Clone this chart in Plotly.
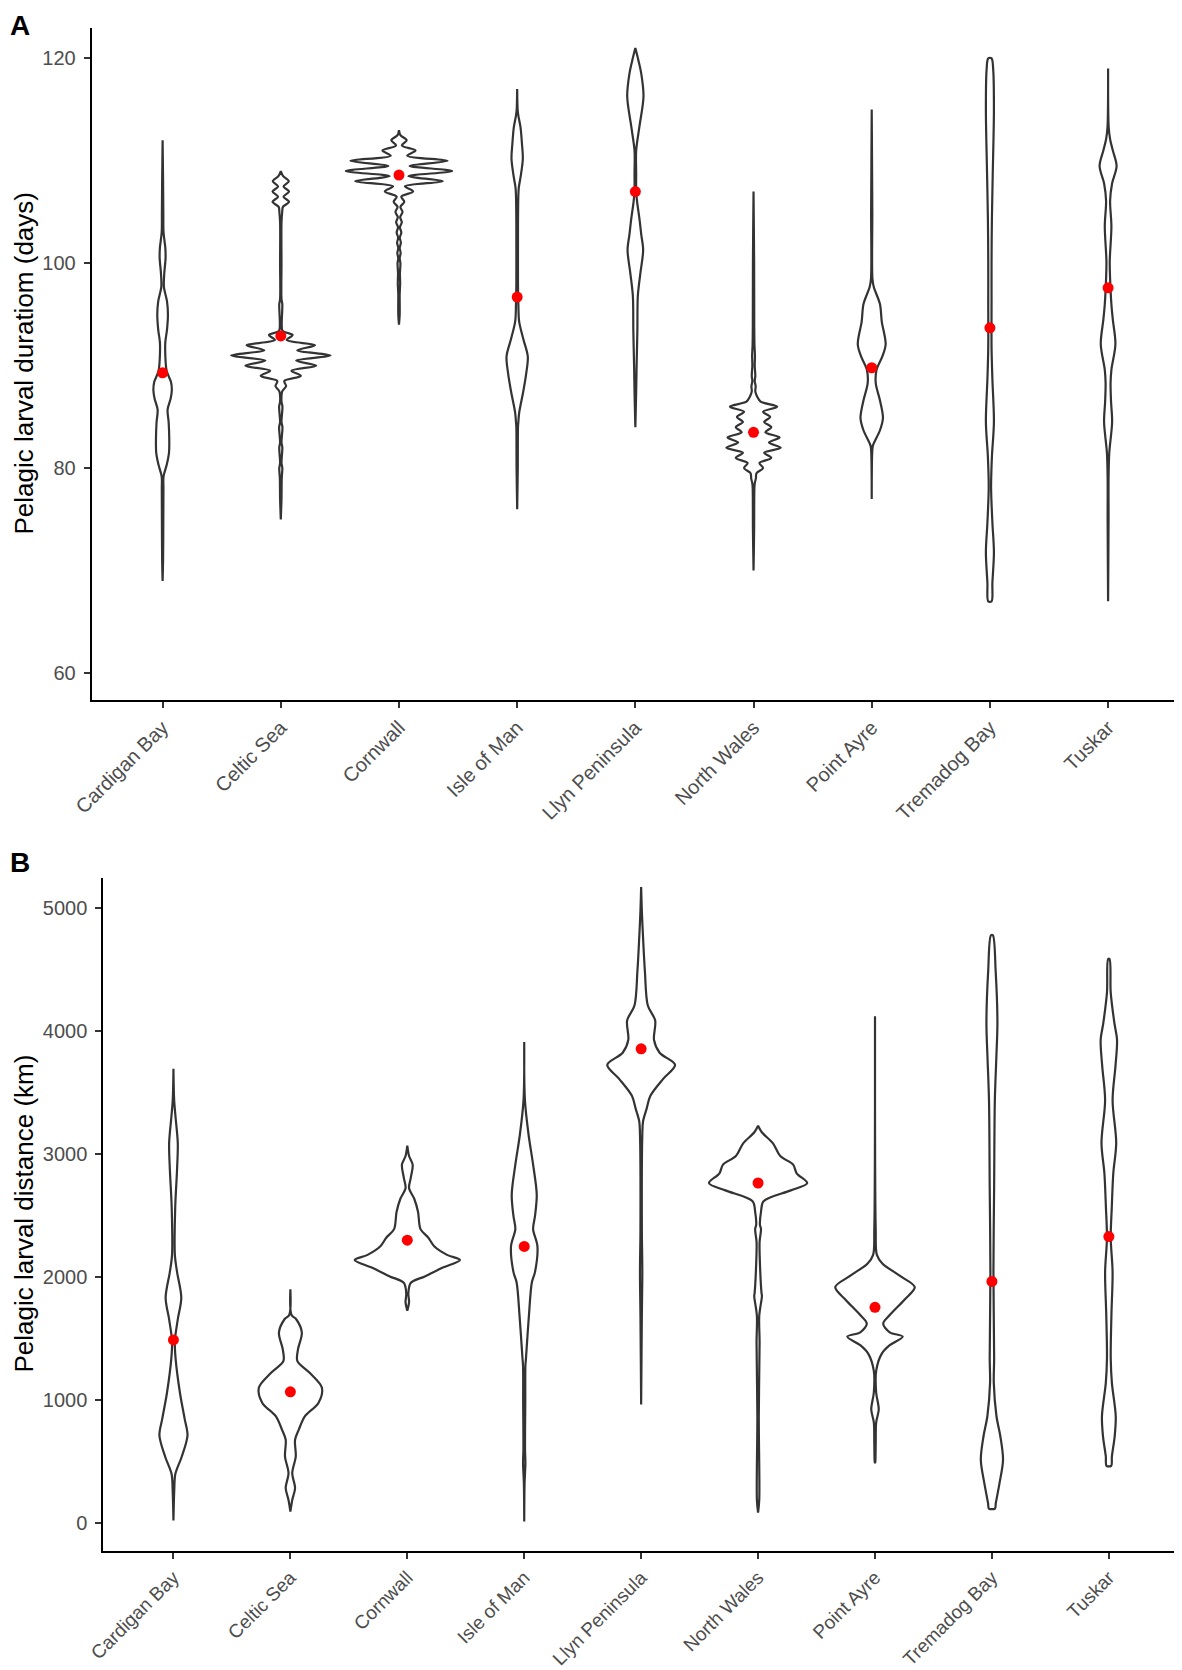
import plotly.graph_objects as go

sites = ["Cardigan Bay", "Celtic Sea", "Cornwall", "Isle of Man", "Llyn Peninsula",
         "North Wales", "Point Ayre", "Tremadog Bay", "Tuskar"]

# violin outlines: (value, half width in category units)
# panel A - pelagic larval duration (days)
pld_cardigan = [(69.0, 0), (71, 0.004), (75, 0.006), (78, 0.007), (79.2, 0.008), (80.3, 0.034),
                (81.5, 0.054), (83, 0.056), (84.5, 0.051), (85.7, 0.042), (86.8, 0.068),
                (87.6, 0.078), (88.4, 0.071), (89.5, 0.034), (91, 0.023), (92.3, 0.023),
                (93.5, 0.037), (95, 0.045), (96.3, 0.037), (97.7, 0.011), (99, 0.014),
                (100.5, 0.025), (101.5, 0.023), (103, 0.008), (105, 0.006), (108, 0.004), (112, 0)]
pld_celtic = [(75, 0), (77, 0.006), (79, 0.008), (80, 0.013), (80.5, 0.006), (82, 0.013),
              (82.5, 0.006), (84, 0.014), (84.5, 0.006), (86, 0.014), (86.5, 0.006),
              (87.5, 0.012), (88, 0.045), (88.5, 0.03), (89, 0.17), (89.5, 0.09),
              (90, 0.30), (90.5, 0.13), (91, 0.42), (91.5, 0.14), (92, 0.29), (92.5, 0.05),
              (93, 0.10), (93.4, 0.015), (94, 0.008), (96, 0.013), (96.5, 0.006), (100, 0.006),
              (104, 0.006), (105, 0.012), (105.5, 0.018), (106, 0.07), (106.5, 0.023),
              (107, 0.07), (107.5, 0.023), (108, 0.068), (108.5, 0.02), (109, 0)]
pld_cornwall = [(94, 0), (95, 0.006), (97, 0.006), (98, 0.01), (99, 0.008), (100, 0.012),
                (100.5, 0.006), (101, 0.014), (101.5, 0.006), (102, 0.016), (102.5, 0.007),
                (103, 0.02), (103.5, 0.008), (104, 0.024), (104.5, 0.01), (105, 0.03),
                (105.5, 0.012), (106, 0.045), (106.5, 0.02), (107, 0.12), (107.5, 0.05),
                (108, 0.37), (108.5, 0.08), (109, 0.45), (109.5, 0.09), (110, 0.41),
                (110.5, 0.07), (111, 0.14), (111.5, 0.025), (112, 0.065), (112.5, 0.012), (113, 0)]
pld_isle_of_man = [(76, 0), (80, 0.005), (84, 0.007), (84.5, 0.01), (85.4, 0.017), (87.5, 0.052),
                   (89.2, 0.076), (90.9, 0.09), (92.6, 0.052), (94.3, 0.017), (96, 0.01),
                   (98, 0.007), (101.9, 0.007), (103.6, 0.007), (106.6, 0.01), (107.4, 0.014),
                   (108.5, 0.03), (110.2, 0.048), (111.6, 0.041), (113.3, 0.028), (114.4, 0.01),
                   (115, 0.004), (117, 0)]
pld_llyn = [(84, 0), (87.5, 0.007), (89.6, 0.01), (93.4, 0.017), (96.8, 0.021), (98.9, 0.041),
            (101.3, 0.066), (102.8, 0.05), (104.4, 0.034), (106, 0.015), (107, 0.007),
            (108.7, 0.007), (111, 0.007), (113.3, 0.034), (116.3, 0.069), (118.5, 0.05),
            (119.7, 0.028), (121, 0)]
pld_north_wales = [(70, 0), (74, 0.005), (78, 0.007), (78.5, 0.01), (79, 0.02), (79.5, 0.025),
                   (80, 0.08), (80.5, 0.05), (81, 0.15), (81.5, 0.09), (82, 0.23), (82.5, 0.13),
                   (83, 0.22), (83.5, 0.1), (84, 0.15), (84.5, 0.09), (85, 0.14), (85.5, 0.08),
                   (86, 0.2), (86.5, 0.06), (87, 0.03), (87.5, 0.015), (88, 0.018), (88.5, 0.01),
                   (89, 0.015), (90, 0.01), (91, 0.012), (92, 0.008), (94, 0.006), (100, 0.005),
                   (107, 0)]
pld_point_ayre = [(77, 0), (81.5, 0.004), (82.2, 0.01), (83.7, 0.07), (84.9, 0.095), (86.6, 0.07),
                  (88.3, 0.034), (89.6, 0.041), (90.9, 0.09), (92.1, 0.118), (94.3, 0.085),
                  (96, 0.07), (97.7, 0.017), (98.5, 0.006), (105, 0.005), (115, 0)]
pld_tremadog = [(67, 0.014), (68.8, 0.021), (71.8, 0.034), (74.7, 0.021), (78.1, 0.01),
                (81.1, 0.017), (84.5, 0.034), (88.7, 0.021), (91.7, 0.014), (96, 0.014),
                (100.2, 0.014), (104.4, 0.017), (108.7, 0.024), (115, 0.034), (118.9, 0.028),
                (120, 0.014)]
pld_tuskar = [(67, 0), (75, 0.004), (79, 0.004), (81.5, 0.01), (84.5, 0.034), (86.5, 0.025),
              (88.3, 0.021), (89.6, 0.028), (92.1, 0.062), (94.5, 0.04), (96, 0.028),
              (98.5, 0.017), (100.2, 0.014), (103.6, 0.028), (106.1, 0.017), (107.8, 0.034),
              (109.5, 0.072), (111, 0.04), (112.1, 0.017), (113.3, 0.005), (119, 0)]
pld_means = [89.3, 92.9, 108.6, 96.7, 107.0, 83.5, 89.8, 93.7, 97.6]

# panel B - pelagic larval distance (km)
dist_cardigan = [(22, 0), (272, 0.007), (400, 0.016), (539, 0.07), (714, 0.12), (853, 0.095),
                 (1063, 0.055), (1342, 0.018), (1482, 0.012), (1657, 0.037), (1832, 0.067),
                 (2041, 0.031), (2181, 0.012), (2565, 0.015), (2880, 0.031), (3089, 0.037),
                 (3299, 0.018), (3438, 0.006), (3693, 0)]
dist_celtic = [(95, 0), (190, 0.016), (285, 0.04), (408, 0.016), (543, 0.046), (679, 0.04),
               (761, 0.072), (870, 0.125), (978, 0.24), (1101, 0.27), (1223, 0.165),
               (1318, 0.06), (1413, 0.065), (1549, 0.098), (1658, 0.05), (1692, 0.01), (1901, 0)]
dist_cornwall = [(1727, 0), (1797, 0.015), (1867, 0.009), (1954, 0.03), (2006, 0.15),
                 (2076, 0.3), (2139, 0.45), (2181, 0.34), (2251, 0.23), (2320, 0.18),
                 (2390, 0.113), (2530, 0.092), (2635, 0.06), (2722, 0.015), (2809, 0.03),
                 (2914, 0.046), (2984, 0.015), (3068, 0)]
dist_isle_of_man = [(14, 0), (326, 0.003), (490, 0.01), (598, 0.007), (993, 0.009),
                    (1277, 0.01), (1342, 0.015), (1685, 0.04), (1957, 0.065), (2041, 0.092),
                    (2251, 0.113), (2390, 0.076), (2495, 0.092), (2670, 0.107), (2914, 0.076),
                    (3159, 0.037), (3438, 0.006), (3910, 0)]
dist_llyn = [(965, 0), (1692, 0.006), (2041, 0.01), (2390, 0.006), (3159, 0.01), (3264, 0.016),
             (3369, 0.047), (3473, 0.079), (3613, 0.19), (3725, 0.29), (3823, 0.158),
             (3928, 0.11), (4085, 0.12), (4207, 0.057), (4486, 0.032), (4766, 0.016),
             (4976, 0.006), (5170, 0)]
dist_north_wales = [(87, 0), (190, 0.01), (870, 0.006), (1467, 0.013), (1685, 0.01),
                    (1848, 0.033), (1867, 0.03), (2111, 0.016), (2286, 0.013), (2390, 0.025),
                    (2425, 0.016), (2530, 0.025), (2617, 0.047), (2705, 0.28), (2764, 0.42),
                    (2844, 0.33), (2914, 0.3), (2984, 0.19), (3089, 0.126), (3177, 0.032),
                    (3230, 0)]
dist_point_ayre = [(489, 0), (505, 0.003), (644, 0.006), (820, 0.01), (924, 0.032), (1063, 0.01),
                   (1238, 0.01), (1377, 0.057), (1447, 0.126), (1517, 0.237), (1552, 0.126),
                   (1622, 0.07), (1692, 0.126), (1815, 0.25), (1919, 0.34), (2006, 0.22),
                   (2111, 0.063), (2181, 0.016), (2390, 0.006), (4120, 0)]
dist_tremadog = [(120, 0.026), (163, 0.033), (326, 0.065), (516, 0.095), (707, 0.072),
                 (870, 0.039), (1141, 0.016), (1342, 0.019), (2041, 0.013), (2740, 0.019),
                 (3438, 0.025), (3788, 0.038), (4067, 0.047), (4486, 0.032), (4778, 0.008)]
dist_tuskar = [(467, 0.02), (543, 0.026), (707, 0.05), (870, 0.059), (1141, 0.026),
               (1342, 0.016), (1692, 0.022), (2041, 0.032), (2320, 0.016), (2565, 0.025),
               (2844, 0.038), (3089, 0.063), (3438, 0.032), (3718, 0.057), (3928, 0.07),
               (4067, 0.047), (4312, 0.016), (4584, 0.006)]
dist_means = [1490, 1068, 2300, 2250, 3855, 2765, 1755, 1965, 2330]

pld_profiles = [pld_cardigan, pld_celtic, pld_cornwall, pld_isle_of_man, pld_llyn,
                pld_north_wales, pld_point_ayre, pld_tremadog, pld_tuskar]
dist_profiles = [dist_cardigan, dist_celtic, dist_cornwall, dist_isle_of_man, dist_llyn,
                 dist_north_wales, dist_point_ayre, dist_tremadog, dist_tuskar]

positions = list(range(1, len(sites) + 1))
# the page body has an 8px margin, so the figure is 8px smaller than the window
W, H = 1174, 1662

fig = go.Figure()


def add_violin(pos, profile, xa, ya):
    vals = [p[0] for p in profile]
    half = [p[1] for p in profile]
    xs = [pos + w for w in half] + [pos - w for w in half[::-1]]
    ys = vals + vals[::-1]
    xs.append(xs[0])
    ys.append(ys[0])
    fig.add_trace(go.Scatter(x=xs, y=ys, xaxis=xa, yaxis=ya, mode="lines",
                             fill="toself", fillcolor="white",
                             line=dict(color="#333333", width=2.2, shape="spline", smoothing=0.9),
                             hoverinfo="skip"))


for pos, prof in zip(positions, pld_profiles):
    add_violin(pos, prof, "x", "y")
for pos, prof in zip(positions, dist_profiles):
    add_violin(pos, prof, "x2", "y2")

fig.add_trace(go.Scatter(x=positions, y=pld_means, xaxis="x", yaxis="y", mode="markers",
                         marker=dict(color="red", size=11)))
fig.add_trace(go.Scatter(x=positions, y=dist_means, xaxis="x2", yaxis="y2", mode="markers",
                         marker=dict(color="red", size=11)))

axis_style = dict(showline=True, linecolor="black", linewidth=2, ticks="outside", ticklen=6,
                  tickwidth=2, tickcolor="#333333", showgrid=False, zeroline=False,
                  automargin=False, tickfont=dict(size=20, color="#4D4D4D"))

fig.update_layout(
    width=W, height=H,
    margin=dict(l=0, r=0, t=0, b=0, autoexpand=False),
    plot_bgcolor="white", paper_bgcolor="white",
    showlegend=False,
    font=dict(family="Liberation Sans, Arial, sans-serif"),
    xaxis=dict(domain=[83.7 / W, 1171 / W], anchor="y", range=[0.4, 9.6],
               tickmode="array", tickvals=positions, ticktext=sites, tickangle=-45,
               **axis_style),
    yaxis=dict(domain=[1 - 692 / H, 1 - 20 / H], anchor="x", range=[57.37, 122.96],
               tickmode="array", tickvals=[60, 80, 100, 120], ticklabelstandoff=4,
               **axis_style),
    xaxis2=dict(domain=[95.3 / W, 1171 / W], anchor="y2", range=[0.4, 9.6],
                tickmode="array", tickvals=positions, ticktext=sites, tickangle=-45,
                **axis_style),
    yaxis2=dict(domain=[1 - 1543 / H, 1 - 870 / H], anchor="x2", range=[-225, 5243],
                tickmode="array", tickvals=[0, 1000, 2000, 3000, 4000, 5000],
                ticklabelstandoff=4, **axis_style),
)
fig.update_xaxes(tickfont_size=19, selector=dict(anchor="y2"))

fig.add_annotation(text="Pelagic larval duratiom (days)", x=15.5 / W, y=1 - 356 / H,
                   xref="paper", yref="paper", textangle=-90, showarrow=False,
                   xanchor="center", yanchor="middle",
                   font=dict(size=26, color="black"))
fig.add_annotation(text="Pelagic larval distance (km)", x=15.5 / W, y=1 - 1206 / H,
                   xref="paper", yref="paper", textangle=-90, showarrow=False,
                   xanchor="center", yanchor="middle",
                   font=dict(size=26, color="black"))
fig.add_annotation(text="<b>A</b>", x=0, y=1, xref="paper", yref="paper",
                   xanchor="left", yanchor="top", showarrow=False,
                   font=dict(size=28, color="black"))
fig.add_annotation(text="<b>B</b>", x=0, y=1 - 837 / H, xref="paper", yref="paper",
                   xanchor="left", yanchor="top", showarrow=False,
                   font=dict(size=28, color="black"))

fig.write_html("out.html")
